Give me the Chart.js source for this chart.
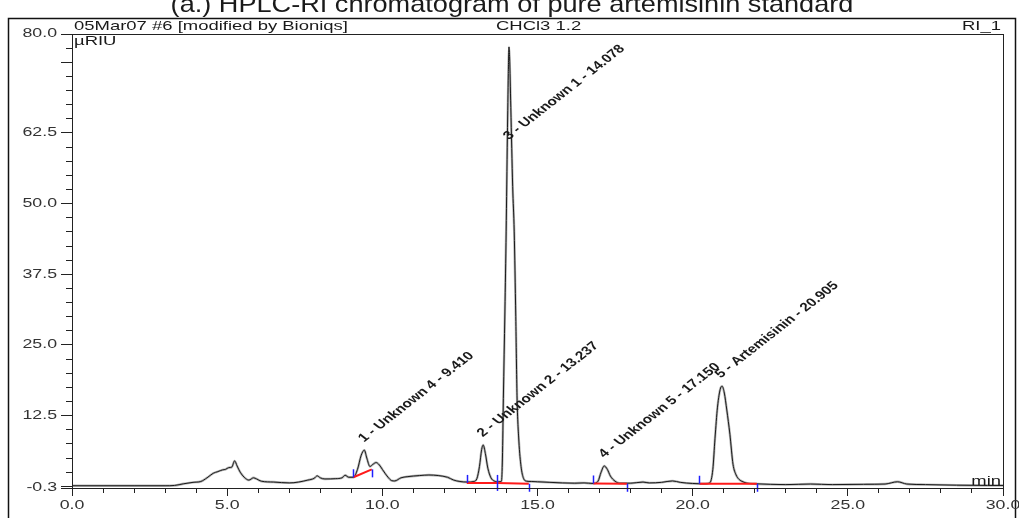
<!DOCTYPE html>
<html>
<head>
<meta charset="utf-8">
<title>HPLC-RI chromatogram</title>
<script src="https://cdn.jsdelivr.net/npm/chart.js@4.4.1/dist/chart.umd.min.js"></script>
<style>
    html, body { margin: 0; padding: 0; background: #fff; }
    .wrap { position: relative; width: 1019px; height: 518px; }
</style>
</head>
<body>
<div class="wrap"><canvas id="chrom"></canvas></div>
<script>
// Texts
const chartTitle = '(a.) HPLC-RI chromatogram of pure artemisinin standard';
const headerLeft = '05Mar07 #6 [modified by Bioniqs]';
const headerMid = 'CHCl3 1.2';
const headerRight = 'RI_1';
const yUnit = 'µRIU';
const xUnit = 'min';

// Detector trace (retention time in min, signal in µRIU)
const traceTime = [
    0, 1, 2, 3, 3.3, 3.6, 3.9, 4.15, 4.35, 4.55,
    4.7, 4.85, 4.95, 5.05, 5.15, 5.24, 5.32, 5.42, 5.55, 5.7,
    5.85, 5.95, 6.1, 6.5, 7.0, 7.3, 7.6, 7.8, 7.9, 8.0,
    8.15, 8.5, 8.7, 8.8, 8.92, 9.07, 9.2, 9.32, 9.42, 9.5,
    9.6, 9.7, 9.8, 9.9, 10.0, 10.1, 10.2, 10.3, 10.4, 10.6,
    10.8, 11.2, 11.5, 11.8, 12.1, 12.3, 12.5, 12.75, 12.95, 13.05,
    13.13, 13.2, 13.25, 13.32, 13.4, 13.5, 13.6, 13.75, 13.84, 13.87,
    13.9, 13.95, 13.99, 14.03, 14.06, 14.08, 14.1, 14.14, 14.2, 14.25,
    14.3, 14.34, 14.4, 14.47, 14.55, 14.65, 14.8, 15.0, 15.4, 15.8,
    16.2, 16.5, 16.8, 16.95, 17.05, 17.15, 17.25, 17.35, 17.5, 17.65,
    18.0, 18.4, 18.6, 19.0, 19.35, 19.6, 20.0, 20.4, 20.55, 20.65,
    20.72, 20.8, 20.9, 20.95, 21.02, 21.1, 21.2, 21.3, 21.4, 21.5,
    21.62, 21.75, 22.0, 22.5, 23.0, 23.8, 24.5, 25.5, 26.2, 26.6,
    26.9, 27.5, 28.5, 29.5, 30
];
const traceValue = [
    0.1, 0.1, 0.1, 0.1, 0.15, 0.45, 0.7, 0.85, 1.5, 2.3,
    2.6, 2.9, 3.0, 3.3, 3.4, 4.5, 3.6, 2.5, 1.6, 1.1,
    1.5, 1.3, 0.9, 0.75, 0.6, 0.75, 1.1, 1.4, 1.85, 1.5,
    1.3, 1.35, 1.5, 1.95, 1.6, 1.6, 3.0, 5.5, 6.4, 5.0,
    3.5, 3.9, 4.2, 3.8, 3.0, 2.2, 1.5, 1.0, 0.95, 1.5,
    1.7, 1.9, 2.0, 1.9, 1.6, 1.1, 0.85, 0.75, 0.85, 1.4,
    3.5, 6.5, 7.3, 5.8, 3.2, 1.5, 0.95, 0.8, 0.9, 5,
    15.5, 31, 45, 62, 73, 77.7, 76, 67, 53, 45,
    30, 16, 8, 3.5, 1.4, 0.9, 0.85, 0.8, 0.7, 0.6,
    0.55, 0.6, 0.5, 0.9, 2.5, 3.6, 3.0, 1.8, 0.9, 0.55,
    0.55, 0.75, 0.6, 0.7, 0.95, 0.7, 0.5, 0.45, 0.6, 3.0,
    8.5, 14.0, 17.4, 17.7, 16.5, 13.5, 9.2, 3.9, 2.0, 1.2,
    0.8, 0.55, 0.45, 0.35, 0.3, 0.4, 0.3, 0.35, 0.4, 0.8,
    0.4, 0.3, 0.2, 0.15, 0.15
];

// Integrated peaks
const peakNames = [
    '1 - Unknown 4 - 9.410',
    '2 - Unknown 2 - 13.237',
    '3 - Unknown 1 - 14.078',
    '4 - Unknown 5 - 17.150',
    '5 - Artemisinin - 20.905'
];
const peakTimes = [9.410, 13.237, 14.078, 17.150, 20.905];
const peakHeights = [6.4, 7.3, 77.7, 3.6, 17.7];

// Integration baselines (start / end of each peak)
const baseStartTime = [9.07, 12.72, 13.70, 16.80, 20.22];
const baseStartValue = [1.6, 0.6, 0.6, 0.5, 0.45];
const baseEndTime = [9.66, 13.70, 14.72, 17.88, 22.07];
const baseEndValue = [3.0, 0.6, 0.45, 0.45, 0.45];

// Axis ticks
const xLabelTicks = [0, 5, 10, 15, 20, 25, 30];
const yLabelTicks = [-0.3, 12.5, 25, 37.5, 50, 62.5, 80];
const xMinorStep = 1;
const yMinorStep = 2.5;
const yMajorStep = 12.5;

const xMin = 0, xMax = 30, yMin = -0.3, yMax = 80;

const FONT = '"Liberation Sans", Arial, sans-serif';
const STRETCH = 1.42;

const xTicks = [];
for (let v = xMin; v <= xMax + 1e-9; v += xMinorStep) xTicks.push(+v.toFixed(3));
const yTicks = [yMin];
for (let v = 0; v < yMax - 1e-9; v += yMinorStep) yTicks.push(+v.toFixed(3));
yTicks.push(yMax);

const isMajorX = v => Math.abs(v / 5 - Math.round(v / 5)) < 1e-6;
const isMajorY = v => yLabelTicks.includes(v) || Math.abs(v / yMajorStep - Math.round(v / yMajorStep)) < 1e-6;

const tracePoints = traceTime.map((t, i) => ({ x: t, y: traceValue[i] }));
const basePoints = [];
baseStartTime.forEach((t, i) => {
    basePoints.push({ x: t, y: baseStartValue[i] });
    basePoints.push({ x: baseEndTime[i], y: baseEndValue[i] });
    basePoints.push({ x: baseEndTime[i], y: null });
});

function stretchText(ctx, text, x, y, align, sx) {
    ctx.save();
    ctx.translate(x, y);
    ctx.scale(sx, 1);
    ctx.textAlign = align;
    ctx.fillText(text, 0, 0);
    ctx.restore();
}

// Frame, header texts, tick labels, integration marks and peak names
const decor = {
    id: 'decor',
    beforeDraw(chart) {
        const { ctx, width, height } = chart;
        ctx.save();
        ctx.fillStyle = '#fff';
        ctx.fillRect(0, 0, width, height);
        ctx.restore();
    },
    afterDatasetsDraw(chart) {
        const { ctx } = chart;
        const xs = chart.scales.x, ys = chart.scales.y;

        // blue start / end markers
        ctx.save();
        ctx.strokeStyle = '#1f1fff';
        ctx.lineWidth = 1.5;
        baseStartTime.forEach((t, i) => {
            const px = Math.round(xs.getPixelForValue(t)) + 0.5;
            const py = ys.getPixelForValue(baseStartValue[i]);
            ctx.beginPath(); ctx.moveTo(px, py); ctx.lineTo(px, py - 8); ctx.stroke();
            const ex = Math.round(xs.getPixelForValue(baseEndTime[i])) + 0.5;
            const ey = ys.getPixelForValue(baseEndValue[i]);
            ctx.beginPath(); ctx.moveTo(ex, ey); ctx.lineTo(ex, ey + 8); ctx.stroke();
        });
        ctx.restore();

        // peak names, rotated
        ctx.save();
        ctx.fillStyle = '#1a1a1a';
        ctx.font = 'bold 12px ' + FONT;
        ctx.textBaseline = 'middle';
        ctx.textAlign = 'left';
        peakNames.forEach((name, i) => {
            const px = xs.getPixelForValue(peakTimes[i]) - 3;
            const py = Math.max(ys.getPixelForValue(peakHeights[i]) - 10, ys.getPixelForValue(61.6));
            ctx.save();
            ctx.translate(px, py);
            ctx.scale(1.28, 1);
            ctx.rotate(-Math.PI / 4);
            ctx.fillText(name, 0, 0);
            ctx.restore();
        });
        ctx.restore();
    },
    afterDraw(chart) {
        const { ctx, chartArea: a } = chart;
        const xs = chart.scales.x, ys = chart.scales.y;
        ctx.save();

        // outer frame
        ctx.strokeStyle = '#111';
        ctx.lineWidth = 1.5;
        ctx.beginPath();
        ctx.moveTo(8.5, chart.height);
        ctx.lineTo(8.5, 18.5);
        ctx.lineTo(1015.5, 18.5);
        ctx.lineTo(1015.5, chart.height);
        ctx.stroke();

        // plot box
        ctx.lineWidth = 1;
        ctx.strokeStyle = '#222';
        ctx.strokeRect(a.left + 0.5, a.top + 0.5, a.right - a.left, a.bottom - a.top);

        ctx.fillStyle = '#1a1a1a';

        // title (partly cut at the top)
        ctx.font = '24px ' + FONT;
        ctx.textBaseline = 'alphabetic';
        stretchText(ctx, chartTitle, 512, 12, 'center', 1.13);

        // header line
        ctx.font = '13px ' + FONT;
        stretchText(ctx, headerLeft, a.left + 2, a.top - 4, 'left', STRETCH);
        stretchText(ctx, headerMid, 496, a.top - 4, 'left', STRETCH);
        stretchText(ctx, headerRight, a.right - 2, a.top - 4, 'right', STRETCH);
        stretchText(ctx, yUnit, a.left + 2, a.top + 11, 'left', STRETCH);
        stretchText(ctx, xUnit, a.right - 2, a.bottom - 3, 'right', STRETCH);

        // tick labels
        ctx.fillStyle = '#333';
        ctx.font = '12.5px ' + FONT;
        ctx.textBaseline = 'middle';
        yLabelTicks.forEach(v => {
            stretchText(ctx, v.toFixed(1), a.left - 15, ys.getPixelForValue(v), 'right', STRETCH);
        });
        ctx.textBaseline = 'top';
        xLabelTicks.forEach(v => {
            stretchText(ctx, v.toFixed(1), xs.getPixelForValue(v), a.bottom + 11, 'center', STRETCH);
        });
        ctx.restore();
    }
};

const ctx = document.getElementById('chrom').getContext('2d');
new Chart(ctx, {
    type: 'line',
    data: {
        datasets: [
            {
                data: basePoints,
                borderColor: '#ff1a1a',
                borderWidth: 2,
                pointRadius: 0,
                spanGaps: false,
                tension: 0
            },
            {
                data: tracePoints,
                borderColor: '#1a1a1a',
                borderWidth: 1,
                pointRadius: 0,
                cubicInterpolationMode: 'monotone'
            },
            {
                data: tracePoints,
                borderColor: 'rgba(130, 130, 130, 0.6)',
                borderWidth: 2.4,
                pointRadius: 0,
                cubicInterpolationMode: 'monotone'
            }
        ]
    },
    options: {
        responsive: true,
        maintainAspectRatio: false,
        animation: false,
        events: [],
        layout: { padding: { left: 0, top: 34, right: 16, bottom: 0 } },
        plugins: {
            legend: { display: false },
            tooltip: { enabled: false },
            title: { display: false }
        },
        scales: {
            x: {
                type: 'linear',
                position: 'bottom',
                min: xMin,
                max: xMax,
                bounds: 'data',
                afterBuildTicks: s => { s.ticks = xTicks.map(v => ({ value: v })); },
                afterFit: s => { s.height = 30; },
                border: { display: false },
                ticks: { display: false, autoSkip: false },
                grid: {
                    drawOnChartArea: false,
                    tickLength: 8,
                    tickWidth: 1,
                    tickColor: '#222',
                    tickBorderDash: c => (c.tick && !isMajorX(c.tick.value)) ? [5, 10] : [],
                    tickBorderDashOffset: 0
                }
            },
            y: {
                type: 'linear',
                position: 'left',
                min: yMin,
                max: yMax,
                bounds: 'data',
                afterBuildTicks: s => { s.ticks = yTicks.map(v => ({ value: v })); },
                afterFit: s => { s.width = 72; },
                border: { display: false },
                ticks: { display: false, autoSkip: false },
                grid: {
                    drawOnChartArea: false,
                    tickLength: 11,
                    tickWidth: 1,
                    tickColor: '#222',
                    tickBorderDash: c => (c.tick && !isMajorY(c.tick.value)) ? [6, 5] : [],
                    tickBorderDashOffset: c => (c.tick && !isMajorY(c.tick.value)) ? 6 : 0
                }
            }
        }
    },
    plugins: [decor]
});
</script>
</body>
</html>
